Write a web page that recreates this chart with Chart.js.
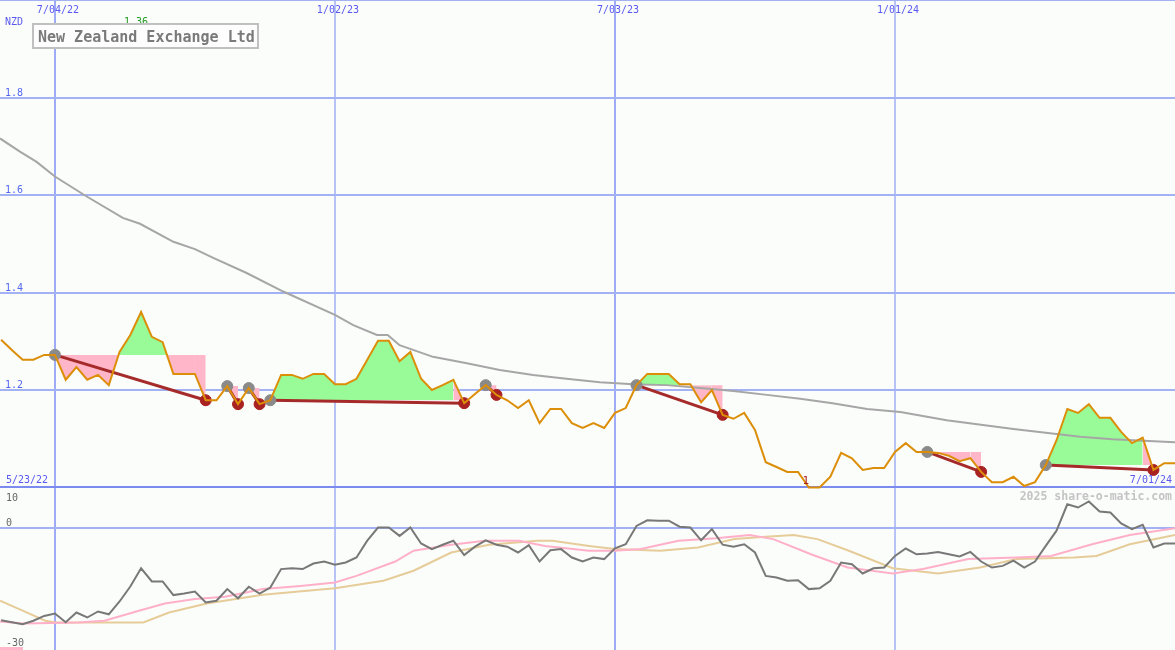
<!DOCTYPE html>
<html>
<head>
<meta charset="utf-8">
<title>New Zealand Exchange Ltd</title>
<script src="https://cdn.jsdelivr.net/npm/chart.js@4.4.1/dist/chart.umd.min.js"></script>
<style>
  html, body { margin: 0; padding: 0; background: #fbfdfb; }
  #wrap { position: relative; width: 1175px; height: 650px; }
</style>
</head>
<body>
<div id="wrap"><canvas id="c" width="1175" height="650"></canvas></div>
<script>
// NZX weekly — price with trend segments, long average, and oscillator panel
// x = weeks counted from 7/04/22

const FIRST_WEEK = -5;

// weekly close, NZD
const PRICE = [
  1.303, 1.282, 1.262, 1.262, 1.272, 1.272, 1.221, 1.247, 1.221, 1.231,
  1.210, 1.278, 1.313, 1.360, 1.309, 1.298, 1.233, 1.233, 1.233, 1.179,
  1.179, 1.208, 1.171, 1.204, 1.171, 1.179, 1.231, 1.231, 1.223, 1.233,
  1.233, 1.212, 1.212, 1.223, 1.262, 1.301, 1.301, 1.259, 1.278, 1.223,
  1.200, 1.210, 1.221, 1.173, 1.192, 1.210, 1.190, 1.179, 1.163, 1.179,
  1.132, 1.161, 1.161, 1.132, 1.122, 1.132, 1.122, 1.153, 1.163, 1.210,
  1.233, 1.233, 1.233, 1.212, 1.212, 1.175, 1.200, 1.149, 1.141, 1.153,
  1.118, 1.052, 1.042, 1.032, 1.032, 1.000, 1.000, 1.022, 1.071, 1.060,
  1.036, 1.040, 1.040, 1.073, 1.091, 1.073, 1.073, 1.071, 1.065, 1.054,
  1.060, 1.032, 1.011, 1.011, 1.022, 1.003, 1.011, 1.046, 1.097, 1.161,
  1.153, 1.171, 1.143, 1.143, 1.114, 1.091, 1.102, 1.036, 1.050, 1.050,
];

// oscillator, same weeks
const OSC = [
  -23.2, -23.7, -24.2, -23.3, -22.1, -21.5, -23.7, -21.25, -22.5, -21,
  -21.7, -18.5, -14.75, -10.2, -13.5, -13.5, -16.9, -16.5, -16, -18.75,
  -18.3, -15.4, -17.7, -14.8, -16.5, -15, -10.4, -10.2, -10.4, -9,
  -8.5, -9.3, -8.75, -7.5, -3.3, 0, 0, -2.1, 0, -4,
  -5.4, -4.3, -3.3, -6.9, -4.8, -3.2, -4.3, -4.8, -6.25, -4.4,
  -8.5, -5.7, -5.4, -7.5, -8.5, -7.5, -7.9, -5.2, -4.2, 0.4,
  1.8, 1.7, 1.7, 0.2, 0, -3.2, -0.4, -4.3, -4.8, -4.2,
  -6.25, -12.1, -12.5, -13.3, -13.2, -15.4, -15.2, -13.3, -8.75, -9.2,
  -11.5, -10.2, -10, -7.1, -5.25, -6.7, -6.5, -6.1, -6.7, -7.25,
  -6.1, -8.5, -10, -9.6, -8.3, -10, -8.5, -4.6, -0.8, 5.8,
  5, 6.5, 4, 3.75, 1, -0.4, 0.7, -5, -4, -4,
];

// long moving average (read at these weeks)
const MA_WEEKS = [-5.1, -3.25, -1.7, 0, 2.8, 6.3, 7.9, 11, 13, 14.7, 17.8, 21.2, 26, 27.7, 29.9, 30.9,
  32, 35.1, 38.25, 41.3, 44.4, 47.5, 50.6, 53.7, 56.8, 59.9, 63, 66.1, 69.2, 72.2, 75.4, 78.5,
  82.8, 89, 95.2, 98.2, 104];
const MA_VALUES = [1.716, 1.689, 1.668, 1.638, 1.599, 1.553, 1.541, 1.504, 1.489, 1.471, 1.440, 1.402, 1.354, 1.333, 1.313, 1.313,
  1.292, 1.268, 1.255, 1.241, 1.231, 1.223, 1.216, 1.212, 1.210, 1.204, 1.198, 1.190, 1.182, 1.173, 1.161, 1.155,
  1.138, 1.120, 1.104, 1.099, 1.093];

// oscillator signal lines
const SIG1_WEEKS = [-5.1, -3, 2.2, 4.6, 7.8, 10.2, 13, 15.8, 19.3, 22.8, 26, 28, 31.6, 33.3, 36.8, 39.9, 43.1, 45.5, 49.6,
  52, 54.4, 57.9, 61.4, 64.5, 66.7, 70.2, 73.6, 77.8, 80.6, 84.8, 89.3, 92.5, 96.3, 99.8, 104];
const SIG1_VALUES = [-23.5, -24, -23.75, -23.3, -20.8, -19, -17.9, -17.3, -15.4, -14.6, -13.75, -12.1, -8.5, -5.8, -4.3, -3.3, -3.3, -4.6, -5.8,
  -5.8, -5.4, -3.3, -2.7, -1.9, -2.9, -6.7, -10, -11.5, -10.4, -7.9, -7.5, -7.1, -4.2, -1.9, -0.2];
const SIG2_WEEKS = [-5.1, -3, -0.9, 0.1, 8.2, 10.6, 14.1, 19.3, 26, 30.5, 33.3, 36.8, 40.3, 44.8, 46.2, 49.6,
  52, 56.2, 59.7, 63.1, 66, 68.6, 70.8, 73.6, 77.8, 82, 85.9, 89.3, 94.6, 96.7, 99.8, 104];
const SIG2_VALUES = [-18.3, -20.8, -23.3, -23.75, -23.75, -21.25, -19, -16.8, -15.2, -13.3, -10.8, -6.25, -4.3, -3.3, -3.3, -4.6,
  -5.4, -5.8, -5, -2.9, -2.3, -1.9, -2.9, -5.7, -10.2, -11.5, -10, -7.9, -7.5, -7.1, -4.2, -1.9];

// trend segments [start week, end week]
const SEGMENTS = [[0, 14], [16, 17], [18, 19], [20, 38], [40, 41], [54, 62], [81, 86], [92, 102]];

const DATE_TICKS = [0, 26, 52, 78];
const DATE_LABELS = ['7/04/22', '1/02/23', '7/03/23', '1/01/24'];
const RANGE_LABELS = ['5/23/22', '7/01/24'];
const PRICE_GRID = [1.2, 1.4, 1.6, 1.8];
const OSC_LABELS = [10, 0, -30];

const GREEN = '#98fb98', PINK = '#ffb6c8';
const MONO = '"DejaVu Sans Mono", "Liberation Mono", monospace';

const pricePts = PRICE.map((v, i) => ({ x: FIRST_WEEK + i, y: v }));
const at = w => PRICE[w - FIRST_WEEK];
const part = (a, b) => pricePts.slice(a - FIRST_WEEK, b - FIRST_WEEK + 1);
const zip = (xs, ys) => xs.map((x, i) => ({ x, y: ys[i] }));

const hidden = { borderColor: 'transparent', borderWidth: 0, pointRadius: 0, yAxisID: 'y', order: 20 };
const datasets = [];

SEGMENTS.forEach(([s, e]) => {
  const level = at(s);
  if (e - s > 1) datasets.push({ ...hidden, data: part(s, e - 1), fill: { target: { value: level }, above: GREEN, below: PINK } });
  datasets.push({ ...hidden, data: part(e - 1, e), fill: { target: { value: level }, above: PINK, below: PINK } });
});

datasets.push(
  { data: zip(SIG2_WEEKS, SIG2_VALUES), yAxisID: 'y2', borderColor: '#e6cc98', borderWidth: 2, pointRadius: 0, order: 12 },
  { data: zip(SIG1_WEEKS, SIG1_VALUES), yAxisID: 'y2', borderColor: '#ffb0c8', borderWidth: 2, pointRadius: 0, order: 11 },
  { data: OSC.map((v, i) => ({ x: FIRST_WEEK + i, y: v })), yAxisID: 'y2', borderColor: '#787878', borderWidth: 2, pointRadius: 0, order: 10 },
  { data: zip(MA_WEEKS, MA_VALUES), yAxisID: 'y', borderColor: '#a6a6a6', borderWidth: 2, pointRadius: 0, order: 9 },
);

SEGMENTS.forEach(([s, e]) => {
  datasets.push({ data: [{ x: s, y: at(s) }, { x: e, y: at(e) }], yAxisID: 'y', borderColor: '#a52a2a', borderWidth: 3, pointRadius: 0, order: 8 });
});

datasets.push(
  { data: SEGMENTS.map(([s]) => ({ x: s, y: at(s) })), yAxisID: 'y', showLine: false,
    pointRadius: 5.5, pointBackgroundColor: '#8a8a8a', pointBorderColor: '#8a8a8a', pointBorderWidth: 1, order: 7 },
  { data: SEGMENTS.map(([, e]) => ({ x: e, y: at(e) })), yAxisID: 'y', showLine: false,
    pointRadius: 5.5, pointBackgroundColor: '#a82222', pointBorderColor: '#a82222', pointBorderWidth: 1, order: 6 },
  { data: pricePts, yAxisID: 'y', borderColor: '#dc8e08', borderWidth: 2, pointRadius: 0, order: 1 },
);

const fmt = v => String(Number(v.toFixed(2)));

const backdrop = {
  id: 'backdrop',
  beforeDatasetsDraw(chart) {
    const { ctx, width, height, scales: { x, y, y2 } } = chart;
    ctx.save();
    ctx.fillStyle = '#fbfdfb';
    ctx.fillRect(0, 0, width, height);
    DATE_TICKS.forEach((w, i) => {
      const px = Math.round(x.getPixelForValue(w));
      ctx.fillStyle = i % 2 ? '#b8c3f5' : '#9dacf5';
      ctx.fillRect(px - 1, 0, 2, height);
    });
    ctx.fillStyle = '#a3b1f5';
    PRICE_GRID.forEach(v => ctx.fillRect(0, Math.round(y.getPixelForValue(v)) - 1, width, 2));
    ctx.fillRect(0, 0, width, 1);
    ctx.fillRect(0, Math.round(y2.getPixelForValue(0)) - 1, width, 2);
    ctx.fillStyle = '#7b8bf0';
    ctx.fillRect(0, Math.floor(y.getPixelForValue(1.0)) - 1, width, 2);
    ctx.restore();
  },
  afterDatasetsDraw(chart) {
    const { ctx, width, scales: { x, y, y2 } } = chart;
    ctx.save();
    ctx.textBaseline = 'alphabetic';
    ctx.font = '10px ' + MONO;

    ctx.fillStyle = '#5a5af0';
    ctx.textAlign = 'center';
    DATE_TICKS.forEach((w, i) => ctx.fillText(DATE_LABELS[i], x.getPixelForValue(w) + 3, 13));
    ctx.textAlign = 'left';
    ctx.fillText('NZD', 5, 25);
    ctx.fillText(RANGE_LABELS[0], 6, 483);
    ctx.textAlign = 'right';
    ctx.fillText(RANGE_LABELS[1], width - 3, 483);

    ctx.textAlign = 'left';
    ctx.fillStyle = '#5566ee';
    PRICE_GRID.forEach(v => ctx.fillText(v.toFixed(1), 5, Math.round(y.getPixelForValue(v)) - 2));

    // high / low marks
    const hi = Math.max(...PRICE), lo = Math.min(...PRICE);
    const hiW = FIRST_WEEK + PRICE.indexOf(hi), loW = FIRST_WEEK + PRICE.indexOf(lo);
    ctx.textAlign = 'center';
    ctx.fillStyle = '#1f9a1f';
    ctx.fillText(fmt(hi), x.getPixelForValue(hiW) - 5, 25);
    ctx.fillStyle = '#a82222';
    ctx.font = '11px ' + MONO;
    ctx.fillText(fmt(lo), x.getPixelForValue(loW) - 3, 484);

    // oscillator labels
    ctx.font = '10px ' + MONO;
    ctx.fillStyle = '#666666';
    ctx.textAlign = 'left';
    OSC_LABELS.forEach(v => {
      const py = Math.round(y2.getPixelForValue(v));
      const base = Math.min(Math.max(py - 2, y2.getPixelForValue(10) + 13), 647);
      ctx.fillText(String(v), 6, base);
    });
    ctx.fillStyle = PINK;
    ctx.fillRect(0, 647, 23, 3);

    // watermark
    ctx.font = 'bold 11.5px ' + MONO;
    ctx.fillStyle = '#c4c4c4';
    ctx.textAlign = 'right';
    ctx.fillText('2025 share-o-matic.com', width - 3, 500);

    // title box
    ctx.fillStyle = '#fdfdfd';
    ctx.fillRect(33, 24, 225, 24);
    ctx.strokeStyle = '#c0c0c0';
    ctx.lineWidth = 2;
    ctx.strokeRect(33, 24, 225, 24);
    ctx.font = 'bold 15px ' + MONO;
    ctx.fillStyle = '#7a7a7a';
    ctx.textAlign = 'left';
    ctx.fillText('New Zealand Exchange Ltd', 38, 42);
    ctx.restore();
  },
};

new Chart(document.getElementById('c'), {
  type: 'line',
  data: { datasets },
  options: {
    responsive: false,
    animation: false,
    events: [],
    layout: { padding: 0, autoPadding: false },
    elements: { line: { tension: 0 } },
    plugins: { legend: { display: false }, tooltip: { enabled: false } },
    scales: {
      x: { type: 'linear', min: -5.1, max: 104, display: false },
      y: { type: 'linear', min: 2 - 650 / 487.5, max: 2, display: false },
      y2: { type: 'linear', min: -30.625, max: 131.875, display: false },
    },
  },
  plugins: [backdrop],
});
</script>
</body>
</html>
